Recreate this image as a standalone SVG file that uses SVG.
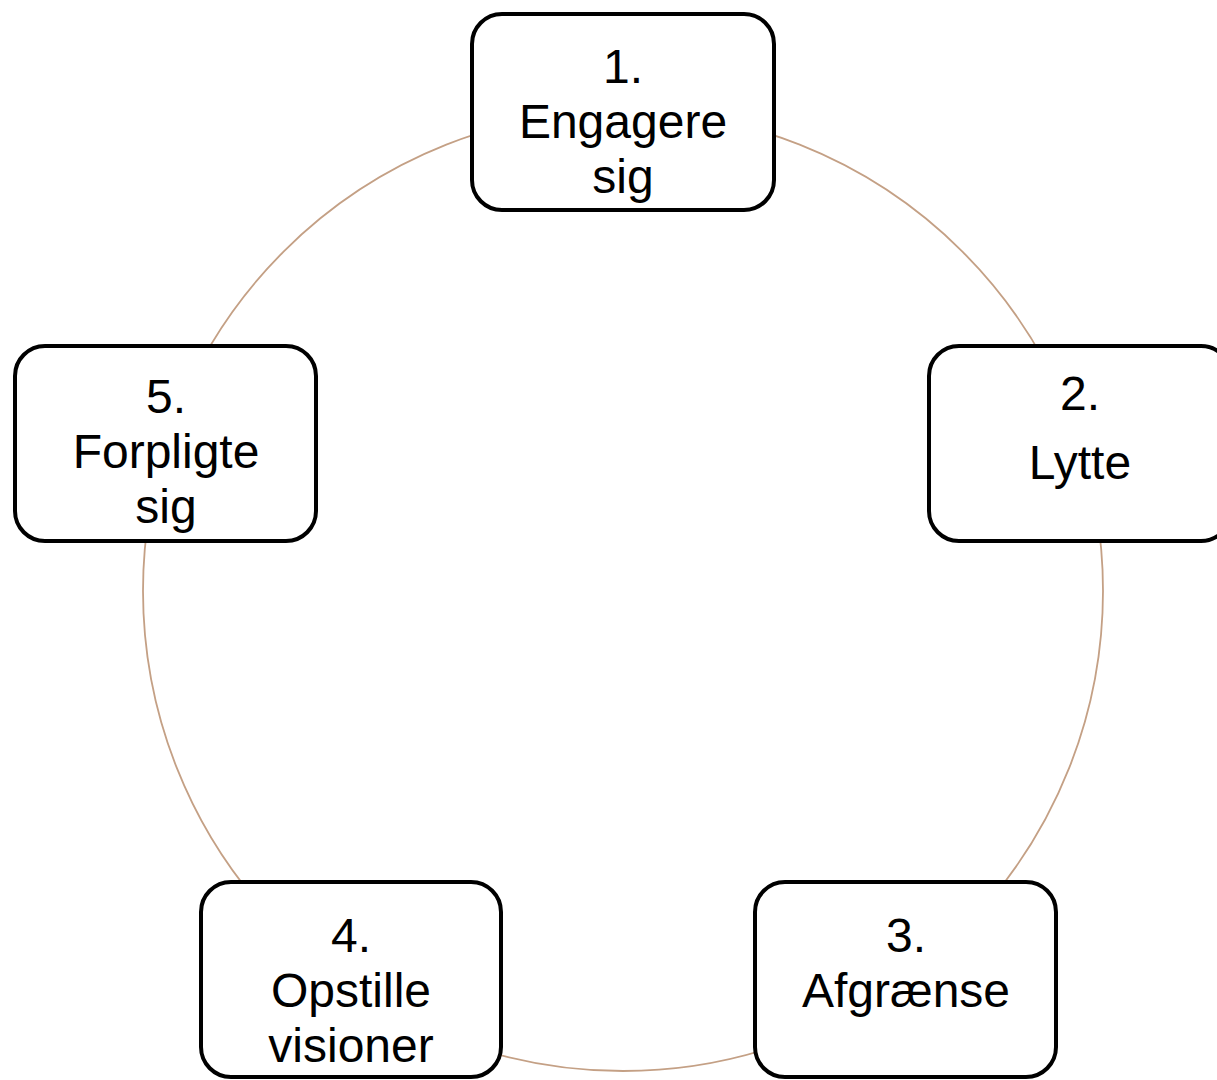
<svg xmlns="http://www.w3.org/2000/svg" width="1217" height="1080" viewBox="0 0 1217 1080">
<style>
.box{fill:#fff;stroke:#000;stroke-width:4}
.t{font-family:"Liberation Sans",Arial,sans-serif;font-size:48px;fill:#000;text-anchor:middle}
</style>
<rect width="1217" height="1080" fill="#fff"/>
<g id="connectors">
<circle cx="623" cy="591" r="480" fill="none" stroke="#C4A085" stroke-width="1.8"/>
</g>
<g id="node1">
<rect class="box" x="472" y="14" width="302" height="196" rx="30"/>
<text class="t" x="623" y="83">1.</text>
<text class="t" x="623" y="138">Engagere</text>
<text class="t" x="623" y="193">sig</text>
</g>
<g id="node2">
<rect class="box" x="929" y="346" width="302" height="195" rx="30"/>
<text class="t" x="1080" y="410">2.</text>
<text class="t" x="1080" y="479">Lytte</text>
</g>
<g id="node3">
<rect class="box" x="755" y="882" width="301" height="195" rx="30"/>
<text class="t" x="906" y="952">3.</text>
<text class="t" x="906" y="1007">Afgrænse</text>
</g>
<g id="node4">
<rect class="box" x="201" y="882" width="300" height="195" rx="30"/>
<text class="t" x="351" y="952">4.</text>
<text class="t" x="351" y="1007">Opstille</text>
<text class="t" x="351" y="1062">visioner</text>
</g>
<g id="node5">
<rect class="box" x="15" y="346" width="301" height="195" rx="30"/>
<text class="t" x="166" y="413">5.</text>
<text class="t" x="166" y="468">Forpligte</text>
<text class="t" x="166" y="523">sig</text>
</g>
</svg>
